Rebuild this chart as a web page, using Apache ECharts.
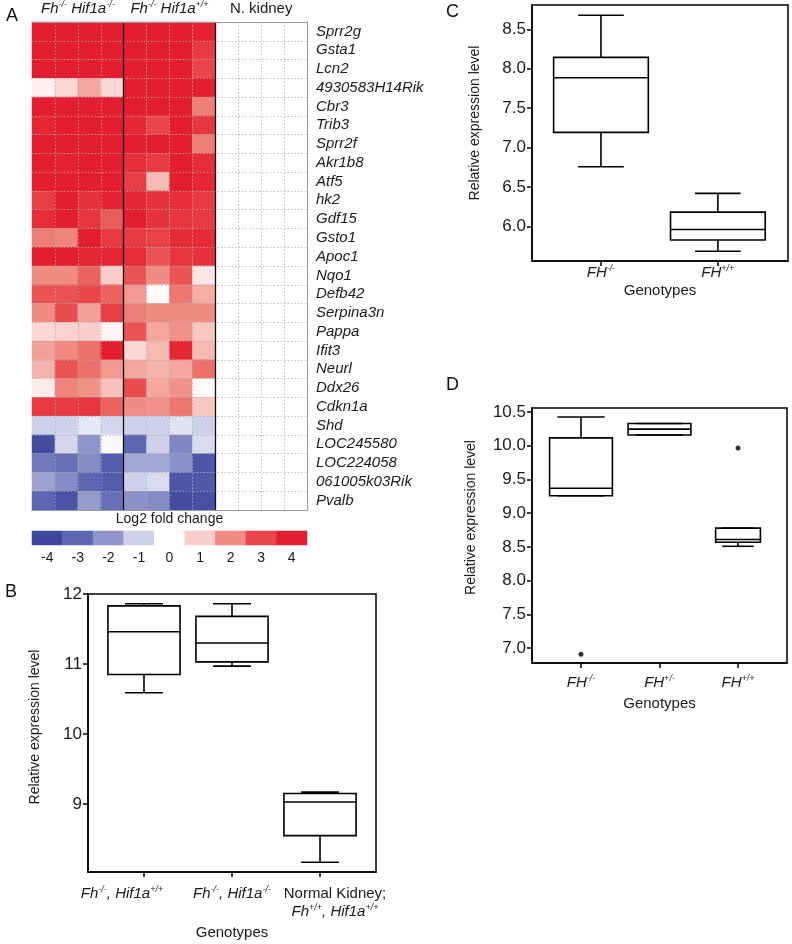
<!DOCTYPE html>
<html><head><meta charset="utf-8">
<script src="https://cdn.jsdelivr.net/npm/echarts@6/dist/echarts.min.js"></script>
<style>html,body{margin:0;padding:0;background:#fff}#c{width:792px;height:944px}</style>
</head><body><div id="c"></div>
<script>
// ---------- Panel A: heatmap data ----------
const genes = ['Sprr2g','Gsta1','Lcn2','4930583H14Rik','Cbr3','Trib3','Sprr2f','Akr1b8','Atf5','hk2','Gdf15','Gsto1','Apoc1','Nqo1','Defb42','Serpina3n','Pappa','Ifit3','Neurl','Ddx26','Cdkn1a','Shd','LOC245580','LOC224058','061005k03Rik','Pvalb'];
const groupNames = ['FhKO_HifKO','FhKO_HifWT','NKidney'];
const sampleNames = ['K1','K2','K3','K4','W1','W2','W3','W4','N1','N2','N3','N4'];
// log2 fold change, Fh-/- Hif1a-/- (4 samples per gene)
const fhHifKO = [
  [4,4,4,4],[4,4,4,4],[4,4,4,4],[0.3,0.8,1.6,0.8],[4,4,4,4],[3.8,4,4,4],[4,4,4,4],[4,3.9,4,4],[4,4,4,4],
  [3.2,4,3.5,3.9],[3.6,4,3.4,2.7],[2.2,2.1,4,3.3],[4,4,3.8,3.8],[2.0,2.0,2.6,1.0],[2.8,2.8,3.0,2.6],
  [2.0,2.9,1.7,3.2],[0.8,0.9,1.0,0.2],[1.7,2.0,2.4,4],[1.4,2.8,2.4,1.8],[0.4,2.1,1.9,1.2],[3.3,3.3,3.4,2.6],
  [-1.0,-1.0,-0.5,-0.9],[-3.8,-0.9,-2.0,-0.1],[-2.6,-2.8,-2.2,-3.3],[-1.8,-2.2,-3.0,-3.3],[-3.0,-3.6,-1.9,-2.8]
];
// log2 fold change, Fh-/- Hif1a+/+
const fhHifWT = [
  [4,4,4,3.9],[4,4,4,3.3],[4,4,4,3.0],[4,4,4,4],[4,4,4,2.2],[3.8,3.0,4,3.4],[4,4,4,2.2],[3.6,3.3,4,3.6],[3.2,1.3,4,3.8],
  [3.8,3.5,3.6,3.3],[4,3.5,3.4,3.3],[3.3,3.1,3.7,3.7],[3.6,2.8,3.4,3.5],[2.8,2.0,2.8,0.5],[1.8,0.1,2.3,1.5],
  [2.2,2.0,2.0,2.0],[2.8,1.6,1.9,1.1],[0.8,1.3,3.8,1.3],[1.6,1.4,1.6,2.4],[2.9,1.6,1.9,0.1],[2.0,1.9,2.3,1.1],
  [-1.0,-1.0,-0.6,-1.0],[-3.0,-1.0,-2.3,-0.8],[-1.7,-1.7,-2.1,-3.5],[-1.0,-0.8,-3.5,-3.4],[-2.1,-2.2,-3.8,-3.7]
];
// normal kidney (reference, log2 fold change = 0)
const nKidney = [
  [0,0,0,0],[0,0,0,0],[0,0,0,0],[0,0,0,0],[0,0,0,0],[0,0,0,0],[0,0,0,0],[0,0,0,0],[0,0,0,0],
  [0,0,0,0],[0,0,0,0],[0,0,0,0],[0,0,0,0],[0,0,0,0],[0,0,0,0],[0,0,0,0],[0,0,0,0],[0,0,0,0],
  [0,0,0,0],[0,0,0,0],[0,0,0,0],[0,0,0,0],[0,0,0,0],[0,0,0,0],[0,0,0,0],[0,0,0,0]
];
const scaleValues = [-4,-3,-2,-1,0,1,2,3,4];
const scaleLabels = ['-4','-3','-2','-1','0','1','2','3','4'];

// ---------- Panel B ----------
const bCats = ['fhHif_pp','fhHif_mm','normal'];
// [x, lowerWhisker, Q1, median, Q3, upperWhisker]
const bStats = [
  [1, 10.59, 10.85, 11.46, 11.83, 11.86],
  [2, 10.97, 11.03, 11.30, 11.68, 11.86],
  [3, 8.17, 8.55, 9.03, 9.15, 9.17]
];
const bTicks = [9,10,11,12];
// ---------- Panel C ----------
const cCats = ['FH-/-','FH+/+'];
const cStats = [
  [1, 6.756, 7.193, 7.886, 8.145, 8.68],
  [2, 5.683, 5.826, 5.96, 6.18, 6.419]
];
const cTicks = [6.0,6.5,7.0,7.5,8.0,8.5];
// ---------- Panel D ----------
const dCats = ['FH-/-','FH+/-','FH+/+'];
const dStats = [
  [1, 9.26, 9.26, 9.37, 10.117, 10.426],
  [2, 10.16, 10.16, 10.247, 10.33, 10.33],
  [3, 8.51, 8.57, 8.61, 8.78, 8.78]
];
const dOutliers = [[1, 6.91],[3, 9.966]];
const dTicks = [7.0,7.5,8.0,8.5,9.0,9.5,10.0,10.5];

// ---------- build ----------
const FONT = 'Liberation Sans, Arial, sans-serif';
const heatData = [];
genes.forEach((g, r) => {
  [fhHifKO, fhHifWT, nKidney].forEach((grp, gi) => {
    grp[r].forEach((v, k) => heatData.push([gi * 4 + k, r, v]));
  });
});
const scaleData = scaleValues.map((v, i) => [i, 0, v]);

const rich = {
  i: {fontStyle: 'italic', fontSize: 15, fontFamily: FONT, color: '#1a1a1a', lineHeight: 18},
  n: {fontSize: 15, fontFamily: FONT, color: '#1a1a1a', lineHeight: 18},
  s: {fontStyle: 'italic', fontSize: 9, fontFamily: FONT, color: '#1a1a1a', lineHeight: 10, verticalAlign: 'top'}
};
const headerLabels = {
  FhKO_HifKO: '{i|Fh}{s|-/-}{i| Hif1a}{s|-/-}',
  FhKO_HifWT: '{i|Fh}{s|-/-}{i| Hif1a}{s|+/+}',
  NKidney: '{n|N. kidney}'
};
const bLabels = {
  fhHif_pp: '{i|Fh}{s|-/-}{i|, Hif1a}{s|+/+}',
  fhHif_mm: '{i|Fh}{s|-/-}{i|, Hif1a}{s|-/-}',
  normal: '{n|Normal Kidney;}\n{i|Fh}{s|+/+}{i|, Hif1a}{s|+/+}'
};
const fhLabel = (c) => '{i|FH}{s|' + c.slice(2) + '}';

// layout: where the category texts sit along each x axis (B texts are nudged away from the frame)
const labelPos = {B: [0.75, 2, 3.17], C: [1, 2], D: [1, 2, 3]};
const boxStyle = {
  B: {box: [0.82, 0.82, 0.82], cap: [0.43, 0.43, 0.43]},
  C: {box: [0.81, 0.81], cap: [0.39, 0.39]},
  D: {box: [0.8, 0.8, 0.57], cap: [0.6, 0.6, 0.4]}
};
function boxRender(st) {
  return function (params, api) {
    const x = api.value(0);
    const lo = api.value(1), q1 = api.value(2), med = api.value(3), q3 = api.value(4), hi = api.value(5);
    const band = api.size([1, 0])[0];
    const bw = band * st.box[params.dataIndex], cw = band * st.cap[params.dataIndex];
    const pLo = api.coord([x, lo]), pQ1 = api.coord([x, q1]), pMed = api.coord([x, med]);
    const pQ3 = api.coord([x, q3]), pHi = api.coord([x, hi]);
    const cx = pMed[0];
    const s = {stroke: '#000', lineWidth: 1.6, fill: null};
    return {type: 'group', children: [
      {type: 'line', shape: {x1: cx, y1: pHi[1], x2: cx, y2: pQ3[1]}, style: s},
      {type: 'line', shape: {x1: cx, y1: pQ1[1], x2: cx, y2: pLo[1]}, style: s},
      {type: 'line', shape: {x1: cx - cw / 2, y1: pHi[1], x2: cx + cw / 2, y2: pHi[1]}, style: s},
      {type: 'line', shape: {x1: cx - cw / 2, y1: pLo[1], x2: cx + cw / 2, y2: pLo[1]}, style: s},
      {type: 'rect', shape: {x: cx - bw / 2, y: pQ3[1], width: bw, height: pQ1[1] - pQ3[1]}, style: {stroke: '#000', lineWidth: 1.6, fill: 'rgba(255,255,255,0)'}},
      {type: 'line', shape: {x1: cx - bw / 2, y1: pMed[1], x2: cx + bw / 2, y2: pMed[1]}, style: s}
    ]};
  };
}

const frameGrid = {show: true, borderColor: '#000', borderWidth: 1.5, backgroundColor: 'transparent'};
const blackLine = {show: true, lineStyle: {color: '#000', width: 1.5}};
const tickOut = (vals) => ({show: true, inside: false, length: 5, customValues: vals, lineStyle: {color: '#000', width: 1.5}});
function valueY(gi, min, max, ticks, dec, nameGap, shiftUp) {
  return {
    type: 'value', gridIndex: gi, min: min, max: max,
    name: 'Relative expression level', nameLocation: 'middle', nameGap: nameGap, nameRotate: 90,
    nameTextStyle: {fontFamily: FONT, fontSize: 14, color: '#1a1a1a', padding: [0, 0, 0, shiftUp * 2]},
    axisLine: blackLine, axisTick: tickOut(ticks), splitLine: {show: false},
    axisLabel: {customValues: ticks, fontFamily: FONT, fontSize: 17, color: '#1a1a1a', margin: 6,
      showMinLabel: true, showMaxLabel: true,
      formatter: (v) => dec ? Number(v).toFixed(1) : String(v)}
  };
}
function valueX(gi, min, max, cats, pos, fmt, nameGap, margin) {
  const ticks = cats.map((c, i) => i + 1);
  return {
    type: 'value', gridIndex: gi, min: min, max: max,
    name: 'Genotypes', nameLocation: 'middle', nameGap: nameGap,
    nameTextStyle: {fontFamily: FONT, fontSize: 15, color: '#1a1a1a'},
    axisLine: blackLine, axisTick: tickOut(ticks), splitLine: {show: false},
    axisLabel: {customValues: pos, rich: rich, margin: margin, lineHeight: 18, hideOverlap: false,
      formatter: (v) => fmt(cats[Math.round(v) - 1])}
  };
}

const titleStyle = {fontFamily: FONT, fontSize: 18, fontWeight: 'normal', color: '#111'};
const option = {
  animation: false,
  textStyle: {fontFamily: FONT},
  title: [
    {text: 'A', left: 6, top: 7, padding: 0, textStyle: titleStyle},
    {text: 'B', left: 5, top: 583, padding: 0, textStyle: titleStyle},
    {text: 'C', left: 446, top: 3, padding: 0, textStyle: titleStyle},
    {text: 'D', left: 446, top: 376, padding: 0, textStyle: titleStyle}
  ],
  visualMap: {
    type: 'continuous', show: false, min: -4, max: 4, seriesIndex: [0, 1], dimension: 2,
    inRange: {color: ['#3e479c', '#5d66b2', '#8f95ca', '#cfd1ea', '#ffffff', '#f9cdc9', '#f08c83', '#e8464a', '#e31e30']}
  },
  grid: [
    {left: 32, top: 22, width: 275, height: 488},
    {left: 32, top: 531, width: 275, height: 14},
    Object.assign({left: 88, top: 594, width: 288, height: 278}, frameGrid),
    Object.assign({left: 532, top: 5, width: 256, height: 256}, frameGrid),
    Object.assign({left: 532, top: 408, width: 255, height: 255}, frameGrid)
  ],
  xAxis: [
    {type: 'category', gridIndex: 0, position: 'top', data: groupNames, z: 5,
      axisLine: {show: true, lineStyle: {color: '#9a9a9a', width: 1}}, axisTick: {show: false},
      axisLabel: {interval: 0, margin: 4, rich: rich, formatter: (v) => headerLabels[v]},
      splitLine: {show: true, interval: 0, showMinLine: false, showMaxLine: false, lineStyle: {color: '#111', width: 1.3}}},
    {type: 'category', gridIndex: 0, position: 'bottom', data: sampleNames, z: 4,
      axisLine: {show: true, lineStyle: {color: '#9a9a9a', width: 1}}, axisTick: {show: false}, axisLabel: {show: false},
      splitLine: {show: true, interval: 0, showMinLine: false, showMaxLine: false, lineStyle: {color: 'rgba(170,170,170,0.75)', type: [1.5, 2], width: 1}}},
    {type: 'category', gridIndex: 1, position: 'bottom', data: scaleLabels,
      axisLine: {show: false}, axisTick: {show: false}, splitLine: {show: false},
      axisLabel: {interval: 0, margin: 6, fontFamily: FONT, fontSize: 14, color: '#1a1a1a'}},
    {type: 'category', gridIndex: 1, position: 'top', data: scaleLabels,
      axisLine: {show: false}, axisTick: {show: false}, axisLabel: {show: false}, splitLine: {show: false},
      name: 'Log2 fold change', nameLocation: 'middle', nameGap: 5,
      nameTextStyle: {fontFamily: FONT, fontSize: 14, color: '#1a1a1a'}},
    valueX(2, 0.364, 3.636, bCats, labelPos.B, (c) => bLabels[c], 53, 13),
    valueX(3, 0.41, 2.60, cCats, labelPos.C, fhLabel, 22, 3),
    valueX(4, 0.376, 3.624, dCats, labelPos.D, fhLabel, 33, 11)
  ],
  yAxis: [
    {type: 'category', gridIndex: 0, position: 'right', inverse: true, data: genes, z: 4,
      axisLine: {show: true, lineStyle: {color: '#9a9a9a', width: 1}}, axisTick: {show: false},
      axisLabel: {interval: 0, margin: 9, fontFamily: FONT, fontSize: 15, fontStyle: 'italic', color: '#1a1a1a'},
      splitLine: {show: true, interval: 0, showMinLine: false, showMaxLine: false, lineStyle: {color: 'rgba(170,170,170,0.75)', type: [1.5, 2], width: 1}}},
    {type: 'category', gridIndex: 1, data: ['scale'], show: false},
    valueY(2, 8.03, 12, bTicks, false, 46, 6),
    valueY(3, 5.56, 8.81, cTicks, true, 50, 10),
    valueY(4, 6.78, 10.56, dTicks, true, 54, 18)
  ],
  series: [
    {type: 'heatmap', xAxisIndex: 1, yAxisIndex: 0, data: heatData, z: 2, emphasis: {disabled: true}, itemStyle: {borderWidth: 0}},
    {type: 'heatmap', xAxisIndex: 2, yAxisIndex: 1, data: scaleData, emphasis: {disabled: true}},
    {type: 'custom', xAxisIndex: 4, yAxisIndex: 2, data: bStats, encode: {x: 0, y: [1, 2, 3, 4, 5]}, renderItem: boxRender(boxStyle.B)},
    {type: 'custom', xAxisIndex: 5, yAxisIndex: 3, data: cStats, encode: {x: 0, y: [1, 2, 3, 4, 5]}, renderItem: boxRender(boxStyle.C)},
    {type: 'custom', xAxisIndex: 6, yAxisIndex: 4, data: dStats, encode: {x: 0, y: [1, 2, 3, 4, 5]}, renderItem: boxRender(boxStyle.D)},
    {type: 'scatter', xAxisIndex: 6, yAxisIndex: 4, data: dOutliers, symbolSize: 5, itemStyle: {color: '#000'}}
  ]
};
const chart = echarts.init(document.getElementById('c'), null, {renderer: 'canvas'});
chart.setOption(option);
</script>
</body></html>
